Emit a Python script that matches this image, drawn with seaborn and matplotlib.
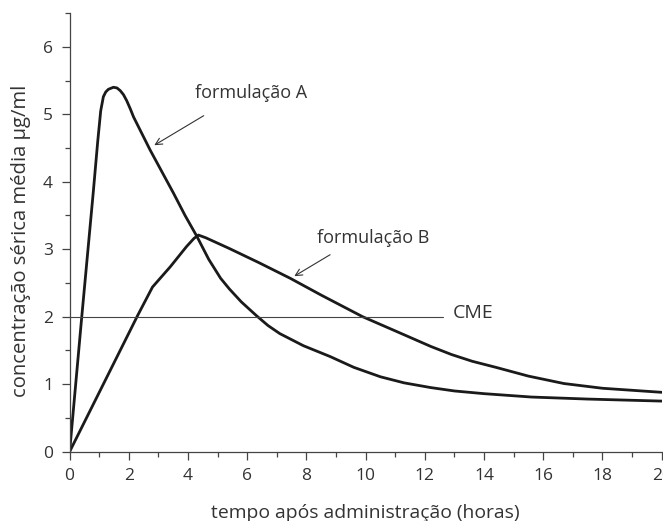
import numpy as np
import pandas as pd
import seaborn as sns
from matplotlib import pyplot as plt
from matplotlib.ticker import MultipleLocator

# curve A (fast absorption)
time_a = [0, 0.4, 0.8, 0.95, 1.05, 1.14, 1.22, 1.31, 1.48, 1.6, 1.71,
          1.82, 1.93, 2.05, 2.16, 2.72, 3.51, 3.9, 4.3, 4.7, 5.1, 5.4,
          5.8, 6.3, 6.7, 7.1, 7.9, 8.8, 9.6, 10.5, 11.3, 12.2, 13.0, 14,
          15.6, 17.5, 20]
conc_a = [0, 1.95, 3.85, 4.6, 5.05, 5.26, 5.33, 5.37, 5.40, 5.39, 5.35,
          5.29, 5.20, 5.08, 4.96, 4.47, 3.83, 3.50, 3.19, 2.85, 2.57, 2.41,
          2.22, 2.02, 1.87, 1.75, 1.57, 1.41, 1.25, 1.11, 1.02, 0.95, 0.90,
          0.86, 0.81, 0.78, 0.75]

# curve B (slow absorption)
time_b = [0, 2.3, 2.8, 3.4, 3.95, 4.2, 4.35, 4.6, 5.4, 6.4, 7.45, 8.5,
          9.9, 11, 12.2, 12.9, 13.6, 14.4, 15.5, 16.7, 18, 20]
conc_b = [0, 2.02, 2.44, 2.74, 3.04, 3.16, 3.21, 3.17, 3.01, 2.80, 2.57,
          2.32, 2.0, 1.79, 1.56, 1.44, 1.34, 1.25, 1.12, 1.01, 0.94, 0.88]

cme = 2.0
cme_end = 12.6

df = pd.concat([
    pd.DataFrame({'t': time_a, 'c': conc_a, 'f': 'A'}),
    pd.DataFrame({'t': time_b, 'c': conc_b, 'f': 'B'}),
])

sns.set_theme(style='ticks')
plt.rcParams['font.family'] = ['Open Sans', 'DejaVu Sans']
txt = '#333333'

fig = plt.figure(figsize=(6.63, 5.21), dpi=100)
ax = fig.add_axes([0.105, 0.133, 0.893, 0.842])

sns.lineplot(data=df, x='t', y='c', units='f', estimator=None,
             color='#1a1a1a', linewidth=2.0, sort=False, ax=ax)
ax.plot([0, cme_end], [cme, cme], color='#444444', linewidth=0.8)

ax.set_xlim(0, 20)
ax.set_ylim(0, 6.5)
ax.xaxis.set_major_locator(MultipleLocator(2))
ax.xaxis.set_minor_locator(MultipleLocator(1))
ax.yaxis.set_major_locator(MultipleLocator(1))
ax.yaxis.set_minor_locator(MultipleLocator(0.5))
ax.tick_params(which='major', length=6, width=0.9, color='#444444',
               labelsize=12.5, labelcolor=txt, pad=6)
ax.tick_params(which='minor', length=3.5, width=0.9, color='#444444')
sns.despine(ax=ax)
for s in ['left', 'bottom']:
    ax.spines[s].set_color('#444444')
    ax.spines[s].set_linewidth(0.9)

ax.set_xlabel('tempo após administração (horas)', fontsize=13.9,
              color=txt, labelpad=14)
ax.set_ylabel('concentração sérica média µg/ml', fontsize=14.6,
              color=txt)
ax.yaxis.set_label_coords(-0.066, 0.48)

arrow = dict(arrowstyle='->', color='#333333', lw=0.8)
ax.annotate('', xy=(2.78, 4.52), xytext=(4.61, 5.0), arrowprops=arrow)
ax.text(4.24, 5.31, 'formulação A', fontsize=13, color=txt,
        va='center', ha='left')
ax.annotate('', xy=(7.51, 2.58), xytext=(8.88, 2.94), arrowprops=arrow)
ax.text(8.37, 3.16, 'formulação B', fontsize=13, color=txt,
        va='center', ha='left')
ax.text(12.95, 2.05, 'CME', fontsize=14, color=txt,
        va='center', ha='left')

fig.savefig('out.png', dpi=100)
plt.close()
